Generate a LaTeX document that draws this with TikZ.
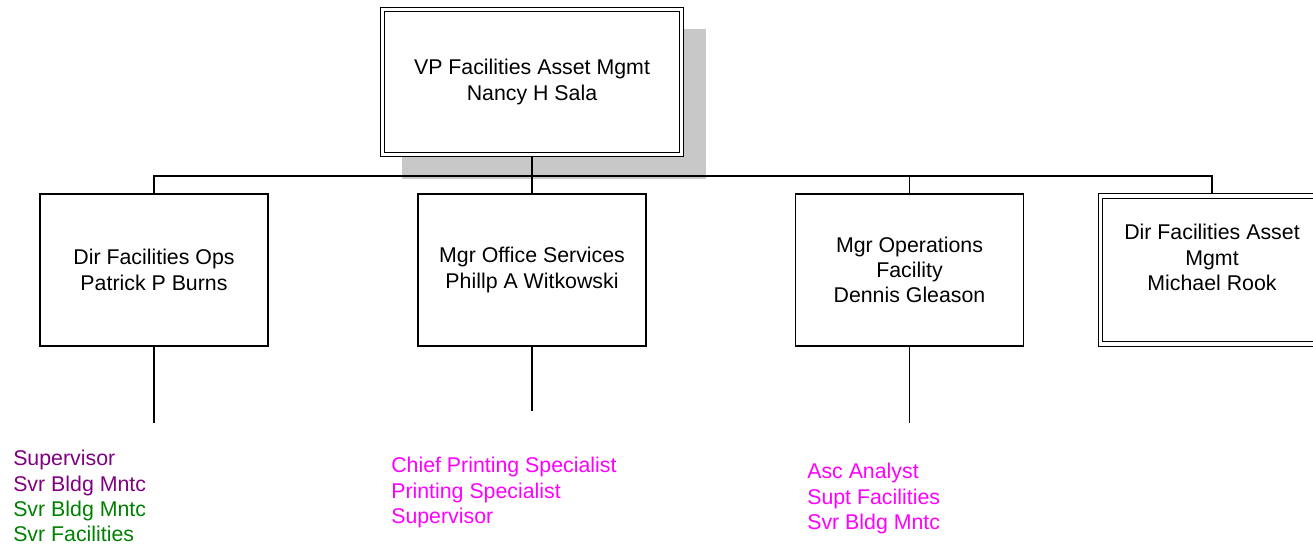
\documentclass[tikz,border=0pt]{standalone}
\usepackage{fontspec}
\setmainfont{Liberation Sans}
\usetikzlibrary{positioning,backgrounds}
\definecolor{listpurple}{RGB}{128,0,128}
\definecolor{listgreen}{RGB}{0,128,0}
\definecolor{listmagenta}{RGB}{255,0,255}
\definecolor{shadowgray}{RGB}{200,200,200}

\begin{document}
\begin{tikzpicture}[x=0.75pt,y=-0.75pt,
    box/.style={draw,fill=white,line width=0.9pt,minimum width=171pt,minimum height=114pt,
        inner sep=0pt,align=center,font=\fontsize{16}{19}\selectfont},
    dbox/.style={box,line width=0.75pt,double,double distance=2.6pt,outer sep=2pt},
    conn/.style={line width=0.9pt},
    list/.style={anchor=north west,inner sep=0pt,align=left,
        font=\fontsize{16}{19}\selectfont}]
\useasboundingbox (0,0) rectangle (1313,550);

\node[dbox,minimum width=224pt,minimum height=109pt] (vp) at (532,82)
    {VP Facilities Asset Mgmt\\Nancy H Sala};
\begin{scope}[on background layer]
    \fill[shadowgray] ([shift={(22,22)}]vp.south west) rectangle ([shift={(22,22)}]vp.north east);
\end{scope}

\node[box] (ops) at (154,270) {Dir Facilities Ops\\Patrick P Burns};
\node[box] (offsvc) at (532,270) {Mgr Office Services\\Phillp A Witkowski};
\node[box] (opsfac) at (909.5,270) {Mgr Operations\\Facility\\Dennis Gleason};
\node[dbox,minimum width=167pt,minimum height=111pt] (assetmgmt) at (1212,270)
    {Dir Facilities Asset\\Mgmt\\Michael Rook\\\mbox{}};

\coordinate (bus) at (532,176);
\draw[conn] (vp.south) -- (offsvc.north);
\draw[conn] (ops.north) |- (bus) -| (assetmgmt.north);
\draw[conn] (opsfac.north) -- (opsfac.north |- bus);

\coordinate[below=57pt of ops.south] (opsend);
\coordinate[below=48pt of offsvc.south] (offsvcend);
\coordinate[below=57pt of opsfac.south] (opsfacend);
\draw[conn] (ops.south) -- (opsend);
\draw[conn] (offsvc.south) -- (offsvcend);
\draw[conn] (opsfac.south) -- (opsfacend);

\node[list] (opslist) at (13,450)
    {\textcolor{listpurple}{Supervisor}\\\textcolor{listpurple}{Svr Bldg Mntc}\\
     \textcolor{listgreen}{Svr Bldg Mntc}\\\textcolor{listgreen}{Svr Facilities}};
\node[list,text=listmagenta] (offsvclist) at (391,457)
    {Chief Printing Specialist\\Printing Specialist\\Supervisor};
\node[list,text=listmagenta] (opsfaclist) at (807,463)
    {Asc Analyst\\Supt Facilities\\Svr Bldg Mntc};
\end{tikzpicture}
\end{document}
